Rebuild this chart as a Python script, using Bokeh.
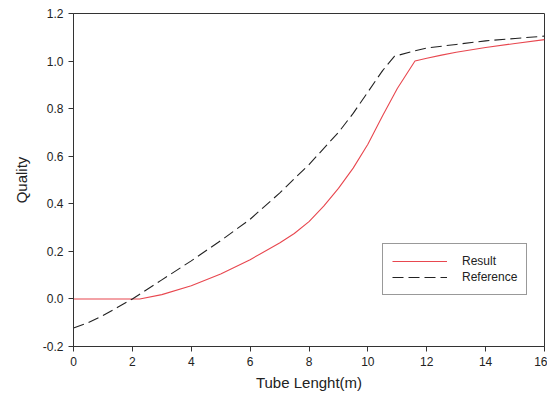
from bokeh.plotting import figure
from bokeh.models import Range1d, Legend, LegendItem, PrintfTickFormatter, FixedTicker
from bokeh.embed import file_html
from bokeh.resources import INLINE

# Result (red solid)
result_x = [0, 1, 2.25, 3, 4, 5, 6, 7, 7.5, 8, 8.5, 9, 9.5, 10, 10.5, 11, 11.6, 12, 12.5, 13, 14, 15, 16]
result_y = [0, 0, 0, 0.018, 0.055, 0.105, 0.165, 0.235, 0.275, 0.325, 0.39, 0.465, 0.55, 0.65, 0.77, 0.885, 1.0,
            1.012, 1.025, 1.037, 1.057, 1.074, 1.09]

# Reference (black dashed)
ref_x = [0, 0.5, 1, 1.5, 2, 3, 4, 5, 6, 7, 8, 9, 9.5, 10, 10.5, 10.9, 11.5, 12, 13, 14, 15, 16]
ref_y = [-0.122, -0.1, -0.07, -0.035, 0, 0.08, 0.16, 0.245, 0.335, 0.445, 0.565, 0.7, 0.78, 0.87, 0.96, 1.02,
         1.04, 1.055, 1.07, 1.085, 1.095, 1.105]

x_ticks = [0, 2, 4, 6, 8, 10, 12, 14, 16]
y_ticks = [-0.2, 0.0, 0.2, 0.4, 0.6, 0.8, 1.0, 1.2]

FONT = "Liberation Sans"

p = figure(width=547, height=395, output_backend="svg", toolbar_location=None,
           x_range=Range1d(0, 16), y_range=Range1d(-0.2, 1.2),
           min_border_left=73, min_border_right=3, min_border_top=13, min_border_bottom=49)

p.xgrid.visible = False
p.ygrid.visible = False
p.outline_line_color = "#333333"
p.outline_line_width = 1
p.background_fill_color = "white"
p.border_fill_color = "white"

r1 = p.line(result_x, result_y, line_color="#e8474f", line_width=1.1)
r2 = p.line(ref_x, ref_y, line_color="#222222", line_width=1.1, line_dash="11 5")

for ax in (p.xaxis[0], p.yaxis[0]):
    ax.major_tick_in = 0
    ax.major_tick_out = 5
    ax.minor_tick_line_color = None
    ax.axis_line_color = "#333333"
    ax.major_tick_line_color = "#333333"
    ax.major_label_text_font = FONT
    ax.major_label_text_font_size = "12px"
    ax.major_label_text_color = "#222222"
    ax.axis_label_text_font = FONT
    ax.axis_label_text_font_size = "15px"
    ax.axis_label_text_font_style = "normal"
    ax.axis_label_text_color = "#222222"
    ax.major_label_standoff = 5

p.xaxis.ticker = FixedTicker(ticks=x_ticks)
p.yaxis.ticker = FixedTicker(ticks=y_ticks)
p.yaxis.formatter = PrintfTickFormatter(format="%.1f")
p.xaxis.axis_label = "Tube Lenght(m)"
p.yaxis.axis_label = "Quality"
p.xaxis.axis_label_standoff = 5
p.yaxis.axis_label_standoff = 10

legend = Legend(items=[LegendItem(label="Result", renderers=[r1]),
                       LegendItem(label="Reference", renderers=[r2])],
                location=(309, 51))
legend.border_line_color = "#333333"
legend.border_line_width = 1
legend.background_fill_alpha = 1
legend.padding = 9
legend.spacing = 0
legend.margin = 0
legend.glyph_width = 55
legend.glyph_height = 16
legend.label_height = 16
legend.label_standoff = 15
legend.label_text_font = FONT
legend.label_text_font_size = "12px"
legend.label_text_color = "#222222"
p.add_layout(legend, "center")

open("out.html", "w").write(file_html(p, INLINE))
